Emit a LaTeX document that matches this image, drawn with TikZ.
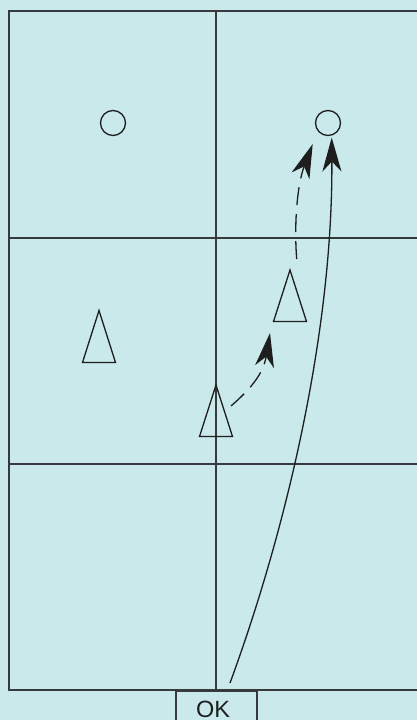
\documentclass[tikz,border=0pt]{standalone}
\usepackage{fontspec}
\setmainfont{Liberation Sans}
\usetikzlibrary{arrows.meta}
\definecolor{bgc}{RGB}{201,233,234}
\definecolor{gridc}{RGB}{55,58,60}
\definecolor{inkc}{RGB}{30,30,30}
\begin{document}
\begin{tikzpicture}[x=1pt,y=-1pt,
  gridline/.style={draw=gridc,line width=1.8pt},
  marker/.style={draw=inkc,line width=1.3pt},
  cone/.style={marker},
  player/.style={circle,draw=inkc,line width=1.3pt,minimum size=25pt,inner sep=0pt},
  run/.style={draw=inkc,line width=1.3pt,-{Stealth[length=34pt,width=19pt,inset=10pt]}},
  pass/.style={run,dash pattern=on 18pt off 9pt}]
\fill[bgc] (0,0) rectangle (417,720);
\useasboundingbox (0,0) rectangle (417,720);
% grid
\draw[gridline] (417,11) -- (9,11) -- (9,690) -- (417,690);
\draw[gridline] (9,238) -- (417,238);
\draw[gridline] (9,464) -- (417,464);
\draw[gridline] (216,11) -- (216,690);
% OK box
\node[draw=gridc,line width=1.8pt,minimum width=81pt,minimum height=34pt,inner sep=0pt,anchor=north,font=\fontsize{24}{24}\selectfont] (ok) at (216.5,690) {};
\node[font=\fontsize{23.5}{24}\selectfont,text=inkc,anchor=base] (oktext) at (213,717) {OK};
% players
\node[player] (p1) at (113,123) {};
\node[player] (p2) at (328,123) {};
% cones
\draw[cone] (99,310.5) -- (115.5,362.5) -- (82.5,362.5) -- cycle;
\draw[cone] (290,270) -- (306.5,321.5) -- (273.5,321.5) -- cycle;
\draw[cone] (216,385) -- (232.5,436.5) -- (199.5,436.5) -- cycle;
\coordinate (c1) at (231,406);
\coordinate (c1tip) at (270,333);
\coordinate (c2) at (296.7,259);
\coordinate (c2tip) at (312.7,144);
\coordinate (start) at (230,683);
\coordinate (endtip) at (331.7,137.5);
% movements
\draw[pass] (c1) .. controls (247,392) and (263,376) .. (c1tip);
\draw[pass] (c2) .. controls (294,225) and (297,185) .. (c2tip);
\draw[run] (start) .. controls (287,528) and (333,330) .. (endtip);
\end{tikzpicture}
\end{document}
